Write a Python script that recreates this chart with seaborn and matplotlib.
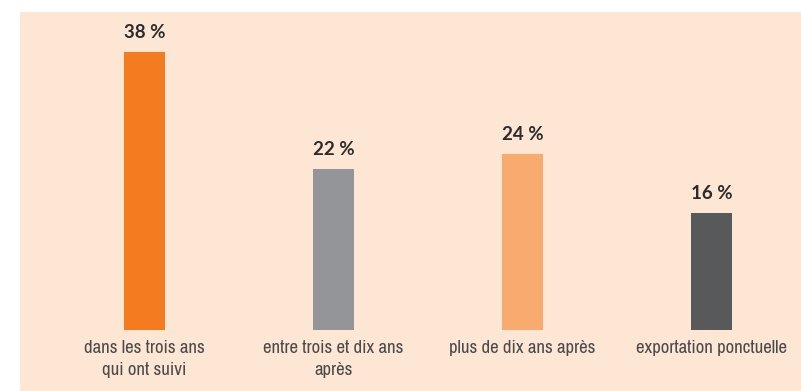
import matplotlib
matplotlib.use("Agg")
import matplotlib.pyplot as plt
import seaborn as sns
import pandas as pd
from matplotlib.patches import Rectangle

categories = ["dans les trois ans\nqui ont suivi", "entre trois et dix ans\naprès",
              "plus de dix ans après", "exportation ponctuelle"]
values = [38, 22, 24, 16]
labels = ["38 %", "22 %", "24 %", "16 %"]
colors = ["#F47B20", "#939598", "#F9AA6F", "#58595B"]

sns.set_theme(style="white")
plt.rcParams['font.family'] = ['Archivo Narrow', 'DejaVu Sans']

W, H = 801, 391
fig = plt.figure(figsize=(W / 100, H / 100), dpi=100)
fig.patch.set_facecolor("white")
fig.patches.append(Rectangle((20 / W, 0), 1 - 20 / W, (H - 12) / H,
                             transform=fig.transFigure, facecolor="#FDE6D4",
                             edgecolor="none", zorder=-5))

ax = fig.add_axes([20 / W, (H - 330) / H, (W - 20) / W, 318 / H])
ax.set_facecolor("none")
ax.set_zorder(2)

df = pd.DataFrame({"cat": categories, "val": values})
sns.barplot(data=df, x="cat", y="val", hue="cat", palette=colors, width=0.217,
            legend=False, ax=ax, saturation=1, linewidth=0)

ax.set_xlim(-0.659, 3.474)
ax.set_ylim(0, 43.47)
for s in ax.spines.values():
    s.set_visible(False)
ax.set_yticks([])
ax.set_xlabel("")
ax.set_ylabel("")
ax.tick_params(axis="x", length=0, pad=7, labelsize=13.5, labelcolor="#4a4a4a")
for t in ax.get_xticklabels():
    t.set_linespacing(1.45)

for i, (v, lab) in enumerate(zip(values, labels)):
    ax.annotate(lab, (i, v), xytext=(0, 8), textcoords="offset points",
                ha="center", va="bottom", fontsize=13.5, fontweight="bold",
                color="#2b2b2b", family=["Lato", "DejaVu Sans"])

fig.savefig("out.png", dpi=100)
